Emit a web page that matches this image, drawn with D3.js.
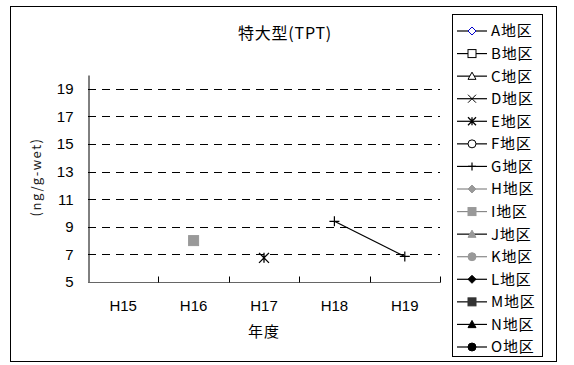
<!DOCTYPE html>
<html>
<head>
<meta charset="utf-8">
<script src="https://cdn.jsdelivr.net/npm/d3@7"></script>
<style>
  html, body { margin: 0; padding: 0; background: #fff; }
  svg { display: block; }
  text { font-family: "Noto Sans CJK JP", "Noto Sans", sans-serif; fill: #000; }
</style>
</head>
<body>
<svg id="chart" width="574" height="365"></svg>
<script>
// Survey years (x categories)
const years = ["H15", "H16", "H17", "H18", "H19"];
// Y axis ticks (ng/g-wet)
const yTicks = [5, 7, 9, 11, 13, 15, 17, 19];
// Region names shown in the legend
const regions = ["A地区","B地区","C地区","D地区","E地区","F地区","G地区","H地区",
                 "I地区","J地区","K地区","L地区","M地区","N地区","O地区"];
// Measured TPT per region and year (null = no data)
const valuesA = [null, null, null, null, null];
const valuesB = [null, null, null, null, null];
const valuesC = [null, null, null, null, null];
const valuesD = [null, null, null, null, null];
const valuesE = [null, null, 6.75, null, null];
const valuesF = [null, null, null, null, null];
const valuesG = [null, null, null, 9.4, 6.85];
const valuesH = [null, null, null, null, null];
const valuesI = [null, 8.0, null, null, null];
const valuesJ = [null, null, null, null, null];
const valuesK = [null, null, null, null, null];
const valuesL = [null, null, null, null, null];
const valuesM = [null, null, null, null, null];
const valuesN = [null, null, null, null, null];
const valuesO = [null, null, null, null, null];

const allValues = [valuesA, valuesB, valuesC, valuesD, valuesE, valuesF, valuesG, valuesH,
                   valuesI, valuesJ, valuesK, valuesL, valuesM, valuesN, valuesO];

// Marker style per region
const styles = [
  { shape: "diamond",  fill: "#fff",  stroke: "#0000cc", line: "#000" },
  { shape: "square",   fill: "#fff",  stroke: "#000",    line: "#000" },
  { shape: "triangle", fill: "#fff",  stroke: "#000",    line: "#000" },
  { shape: "x",        fill: "none",  stroke: "#000",    line: "#000" },
  { shape: "star",     fill: "none",  stroke: "#000",    line: "#000" },
  { shape: "circle",   fill: "#fff",  stroke: "#000",    line: "#000" },
  { shape: "plus",     fill: "none",  stroke: "#000",    line: "#000" },
  { shape: "diamond",  fill: "#999",  stroke: "#999",    line: "#888" },
  { shape: "square",   fill: "#999",  stroke: "#999",    line: "#888" },
  { shape: "triangle", fill: "#999",  stroke: "#999",    line: "#000" },
  { shape: "circle",   fill: "#999",  stroke: "#999",    line: "#888" },
  { shape: "diamond",  fill: "#000",  stroke: "#000",    line: "#000" },
  { shape: "square",   fill: "#333",  stroke: "#333",    line: "#000" },
  { shape: "triangle", fill: "#000",  stroke: "#000",    line: "#000" },
  { shape: "circle",   fill: "#000",  stroke: "#000",    line: "#000" }
];

const svg = d3.select("#chart");

// Outer chart frame
svg.append("rect")
  .attr("x", 10.5).attr("y", 6.5).attr("width", 546).attr("height", 355)
  .attr("fill", "#fff").attr("stroke", "#000").attr("stroke-width", 1);

const plot = { left: 88, right: 440, top: 75, bottom: 282 };

const x = d3.scaleBand().domain(years).range([plot.left, plot.right]);
const y = d3.scaleLinear().domain([5, 20]).range([plot.bottom, plot.top]);

// Dashed gridlines
svg.append("g")
  .selectAll("line")
  .data(yTicks.filter(t => t > 5))
  .join("line")
  .attr("x1", plot.left).attr("x2", plot.right)
  .attr("y1", d => Math.round(y(d)) + 0.5).attr("y2", d => Math.round(y(d)) + 0.5)
  .attr("stroke", "#000").attr("stroke-width", 1)
  .attr("stroke-dasharray", "8,6");

// Y axis
const yAxis = svg.append("g")
  .attr("transform", `translate(${plot.left + 0.5},0)`)
  .call(d3.axisLeft(y).tickValues(yTicks).tickSize(0).tickPadding(15));
yAxis.select(".domain").attr("stroke", "#000");
yAxis.selectAll("text")
  .style("font-size", "15px")
  .style("font-family", "'Liberation Sans', Arial, sans-serif");

// X axis with inward ticks at category boundaries
const xAxisG = svg.append("g")
  .attr("transform", `translate(0,${plot.bottom + 0.5})`);
xAxisG.append("line")
  .attr("x1", plot.left).attr("x2", plot.right + 0.5)
  .attr("stroke", "#666").attr("stroke-width", 1.2);
const bounds = years.map(d => x(d)).concat([plot.right]).slice(1);
xAxisG.selectAll("line.tick")
  .data(bounds)
  .join("line")
  .attr("class", "tick")
  .attr("x1", d => Math.round(d) + 0.5).attr("x2", d => Math.round(d) + 0.5)
  .attr("y1", 0).attr("y2", -6)
  .attr("stroke", "#000");
xAxisG.selectAll("text")
  .data(years)
  .join("text")
  .attr("x", d => x(d) + x.bandwidth() / 2)
  .attr("y", 28)
  .attr("text-anchor", "middle")
  .style("font-size", "15px")
  .style("font-family", "'Liberation Sans', Arial, sans-serif")
  .text(d => d);

// Axis titles and chart title
svg.append("text")
  .attr("x", (plot.left + plot.right) / 2).attr("y", 337)
  .attr("text-anchor", "middle")
  .style("font-size", "15px")
  .style("letter-spacing", "1px")
  .text("年度");

svg.append("text")
  .attr("transform", "translate(41,177) rotate(-90)")
  .attr("text-anchor", "middle")
  .style("font-size", "13px")
  .style("letter-spacing", "1.5px")
  .style("fill", "#222")
  .text("(ng/g-wet)");

svg.append("text")
  .attr("x", 285).attr("y", 39)
  .attr("text-anchor", "middle")
  .style("font-size", "16px")
  .style("letter-spacing", "0.8px")
  .text("特大型(TPT)");

// Marker drawing helper
function drawMarker(g, st, cx, cy, s) {
  const h = s / 2;
  switch (st.shape) {
    case "diamond":
      g.append("path").attr("d", `M${cx},${cy - h}L${cx + h},${cy}L${cx},${cy + h}L${cx - h},${cy}Z`)
        .attr("fill", st.fill).attr("stroke", st.stroke);
      break;
    case "square":
      g.append("rect").attr("x", cx - h).attr("y", cy - h).attr("width", s).attr("height", s)
        .attr("fill", st.fill).attr("stroke", st.stroke);
      break;
    case "triangle":
      g.append("path").attr("d", `M${cx},${cy - h}L${cx + h},${cy + h * 0.8}L${cx - h},${cy + h * 0.8}Z`)
        .attr("fill", st.fill).attr("stroke", st.stroke);
      break;
    case "circle":
      g.append("circle").attr("cx", cx).attr("cy", cy).attr("r", h)
        .attr("fill", st.fill).attr("stroke", st.stroke);
      break;
    case "x":
      g.append("path").attr("d", `M${cx - h},${cy - h}L${cx + h},${cy + h}M${cx - h},${cy + h}L${cx + h},${cy - h}`)
        .attr("fill", "none").attr("stroke", st.stroke);
      break;
    case "star":
      g.append("path").attr("d", `M${cx - h},${cy - h}L${cx + h},${cy + h}M${cx - h},${cy + h}L${cx + h},${cy - h}M${cx},${cy - h}L${cx},${cy + h}`)
        .attr("fill", "none").attr("stroke", st.stroke).attr("stroke-width", 1.3);
      break;
    case "plus":
      g.append("path").attr("d", `M${cx - h},${cy}L${cx + h},${cy}M${cx},${cy - h}L${cx},${cy + h}`)
        .attr("fill", "none").attr("stroke", st.stroke).attr("stroke-width", 1.2);
      break;
  }
}

// Series lines and markers
const marks = svg.append("g");
allValues.forEach((vals, i) => {
  const st = styles[i];
  const line = d3.line()
    .defined(p => p.v !== null)
    .x(p => x(p.year) + x.bandwidth() / 2)
    .y(p => y(p.v));
  const pts = vals.map((v, j) => ({ year: years[j], v }));
  marks.append("path")
    .datum(pts)
    .attr("d", line)
    .attr("fill", "none").attr("stroke", "#000").attr("stroke-width", 1.2);
  pts.filter(p => p.v !== null).forEach(p => {
    drawMarker(marks, st, x(p.year) + x.bandwidth() / 2, y(p.v), 10);
  });
});

// Legend
const leg = svg.append("g");
leg.append("rect")
  .attr("x", 452.5).attr("y", 14.5).attr("width", 90).attr("height", 342)
  .attr("fill", "#fff").attr("stroke", "#000").attr("stroke-width", 1);
const legY = d3.scalePoint().domain(regions).range([31, 347]);
regions.forEach((name, i) => {
  const st = styles[i];
  const cy = legY(name);
  leg.append("line")
    .attr("x1", 457).attr("x2", 487).attr("y1", cy).attr("y2", cy)
    .attr("stroke", st.line).attr("stroke-width", 1.2);
  drawMarker(leg, st, 472, cy, 8);
  leg.append("text")
    .attr("x", 491).attr("y", cy)
    .attr("dy", "0.36em")
    .style("font-size", "15px")
    .style("letter-spacing", "0.8px")
    .text(name);
});
</script>
</body>
</html>
